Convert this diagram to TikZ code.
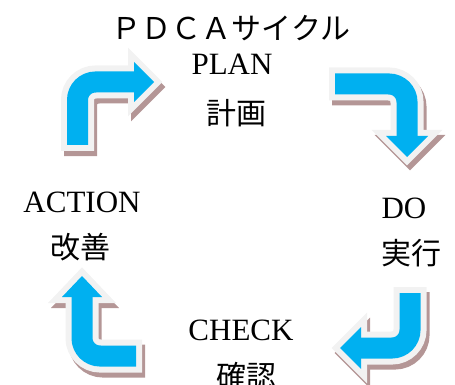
\documentclass[tikz,border=0pt]{standalone}
\usepackage{fontspec}
\setmainfont{Liberation Serif}
\newfontfamily\jpfont{Noto Sans CJK JP}
\definecolor{arrowblue}{RGB}{0,176,240}
\definecolor{rimgray}{RGB}{242,242,242}
\definecolor{shadowbrown}{RGB}{180,150,150}
\tikzset{
  rimline/.style={draw=rimgray, line width=33pt, line cap=butt, rounded corners=18pt, shorten <=-6pt},
  headrim/.style={draw=rimgray, fill=rimgray, line width=12pt, line join=miter, miter limit=10},
  bodyline/.style={draw=arrowblue, line width=21pt, line cap=butt, rounded corners=18pt},
  label/.style={inner sep=0pt, font=\fontsize{30}{36}\selectfont},
  latin/.style={inner sep=0pt, anchor=base, font=\fontsize{31}{36}\selectfont},
}
\newcommand\cyclearrow[6]{%
  \begin{scope}[shift={(3,5)}]
    \draw[rimline, draw=shadowbrown] #1 -- #2 -- #3;
    \filldraw[headrim, draw=shadowbrown, fill=shadowbrown] #5 -- #4 -- #6 -- cycle;
  \end{scope}
  \draw[rimline] #1 -- #2 -- #3;
  \filldraw[headrim] #5 -- #4 -- #6 -- cycle;
  \draw[bodyline] #1 -- #2 -- #3;
  \fill[arrowblue] #5 -- #4 -- #6 -- cycle;
}
\begin{document}
\begin{tikzpicture}[x=1pt, y=-1pt]
  \useasboundingbox (0,0) rectangle (455,385);
  % arrows
  \cyclearrow{(77.5,145)}{(77.5,82)}{(134,82)}{(154,82)}{(134,62)}{(134,102)}
  \cyclearrow{(335,84)}{(407,84)}{(407,136)}{(407,157)}{(386,136)}{(428,136)}
  \cyclearrow{(410,293)}{(410,348)}{(361,348)}{(340,348)}{(361,327)}{(361,369)}
  \cyclearrow{(136,356)}{(82,356)}{(82,297)}{(82,276)}{(62,297)}{(102,297)}
  % labels
  \node[label] (title) at (231,28) {\jpfont ＰＤＣＡサイクル};
  \node[latin] (plan) at (232,75) {PLAN};
  \node[label] (keikaku) at (236,113) {\jpfont 計画};
  \node[latin] (action) at (82,212) {ACTION};
  \node[label] (kaizen) at (80,247) {\jpfont 改善};
  \node[latin] (do) at (404,218) {DO};
  \node[label] (jikko) at (411,253) {\jpfont 実行};
  \node[latin] (check) at (241,340) {CHECK};
  \node[label] (kakunin) at (246,376) {\jpfont 確認};
\end{tikzpicture}
\end{document}
